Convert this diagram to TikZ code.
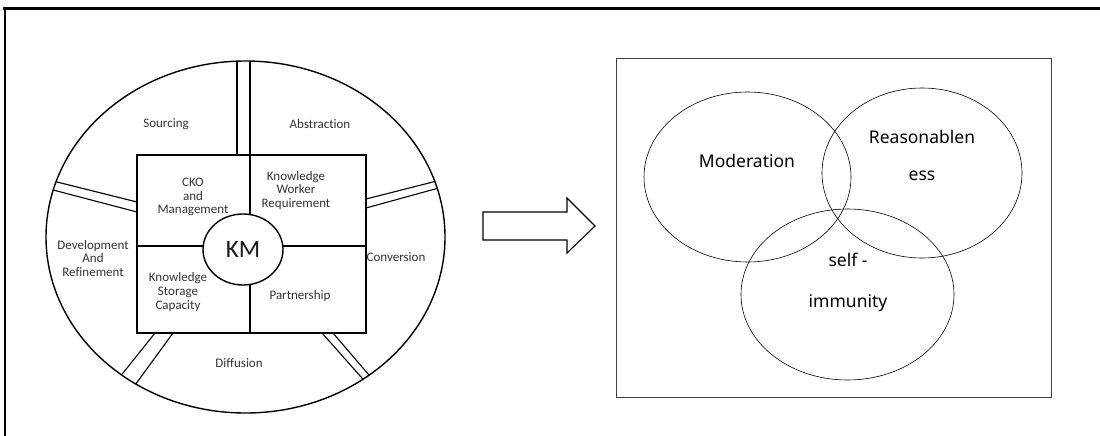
\documentclass[tikz,border=0pt]{standalone}
\usepackage{fontspec}
\usetikzlibrary{shapes.geometric}
\newfontfamily\lfont[Ligatures=NoCommon]{Carlito}
\newfontfamily\rfont{Noto Sans}
\tikzset{
  lt/.style={font=\lfont\fontsize{13}{13.7}\selectfont, text=black!80, align=center, inner sep=0pt},
  rt/.style={font=\rfont\fontsize{17.5}{20}\selectfont, text=black, align=center, inner sep=0pt},
  spoke/.style={line width=1.1pt},
  thick1/.style={line width=1.4pt}
}
\begin{document}
\begin{tikzpicture}[x=1pt,y=-1pt]
\useasboundingbox (0,0) rectangle (1100,436);
% outer frame
\draw[line width=2.4pt] (3,8.5) -- (1100,8.5);
\draw[line width=1.4pt] (5,8) -- (5,436);
% spokes clipped to outer ellipse
\begin{scope}
\clip (245.5,237) ellipse [x radius=199.5, y radius=176];
\draw[spoke] (237,155) -- (237,30);
\draw[spoke] (250,155) -- (250,30);
\draw[spoke] (137,202) -- (17,172);
\draw[spoke] (137,212) -- (17,180.5);
\draw[spoke] (366,199) -- (466,173.6);
\draw[spoke] (366,208) -- (466,180.5);
\draw[spoke] (155,333) -- (107,393);
\draw[spoke] (173,333) -- (123,401.6);
\draw[spoke] (322,333) -- (380,398.3);
\draw[spoke] (333,333) -- (387,396);
\end{scope}
\draw[thick1] (245.5,237) ellipse [x radius=199.5, y radius=176];
% inner rectangle
\draw[thick1,fill=white] (137,155) rectangle (366,333);
\draw[thick1] (250,155) -- (250,333);
\draw[thick1] (137,246) -- (366,246);
\node[draw, thick1, fill=white, ellipse, minimum width=80pt, minimum height=71pt, inner sep=0pt] (km) at (243,249.5) {};
\node[font=\lfont\fontsize{25}{27}\selectfont, text=black!90] at (km.center) {KM};
% left texts
\node[lt] (src) at (166,124) {Sourcing};
\node[lt] (abs) at (320,124) {Abstraction};
\node[lt] (cko) at (193,197) {CKO\\and\\Management};
\node[lt] (kwr) at (296,190.5) {Knowledge\\Worker\\Requirement};
\node[lt] (dev) at (93,258.5) {Development\\And\\Refinement};
\node[lt] (con) at (396,257) {Conversion};
\node[lt] (ksc) at (178,292) {Knowledge\\Storage\\Capacity};
\node[lt] (par) at (300,296) {Partnership};
\node[lt] (dif) at (239,363) {Diffusion};
% big arrow
\draw[line width=1.1pt, fill=white] (483,212) -- (567,212) -- (567,198) -- (595,226) -- (567,253) -- (567,240) -- (483,240) -- cycle;
% right box
\draw[line width=0.9pt, draw=black!75] (616,58) rectangle (1051,397);
\draw[line width=0.6pt] (747.5,177) ellipse [x radius=103.5, y radius=85];
\draw[line width=0.6pt] (922,173) ellipse [x radius=100, y radius=85];
\draw[line width=0.6pt] (847.5,294.5) ellipse [x radius=106.5, y radius=85.5];
\node[rt] (mod) at (747,161) {Moderation};
\node[rt] (rea1) at (922,137) {Reasonablen};
\node[rt] (rea2) at (922,176) {ess};
\node[rt] (self) at (848,260) {self -};
\node[rt] (imm) at (848,303) {immunity};
\end{tikzpicture}
\end{document}
